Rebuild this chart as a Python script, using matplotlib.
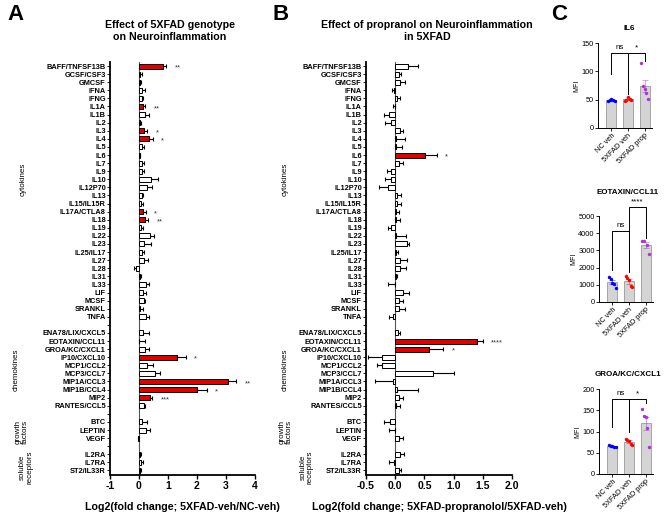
import numpy as np
import matplotlib.pyplot as plt
from matplotlib.transforms import blended_transform_factory

plt.rcParams['font.family'] = ['Liberation Sans', 'DejaVu Sans']
plt.rcParams['axes.unicode_minus'] = False

# ---- row labels (blank rows separate the groups) ----
cytokines = ['BAFF/TNFSF13B', 'GCSF/CSF3', 'GMCSF', 'IFNA', 'IFNG', 'IL1A', 'IL1B', 'IL2',
             'IL3', 'IL4', 'IL5', 'IL6', 'IL7', 'IL9', 'IL10', 'IL12P70', 'IL13',
             'IL15/IL15R', 'IL17A/CTLA8', 'IL18', 'IL19', 'IL22', 'IL23', 'IL25/IL17',
             'IL27', 'IL28', 'IL31', 'IL33', 'LIF', 'MCSF', 'SRANKL', 'TNFA']
chemokines = ['ENA78/LIX/CXCL5', 'EOTAXIN/CCL11', 'GROA/KC/CXCL1', 'IP10/CXCL10',
              'MCP1/CCL2', 'MCP3/CCL7', 'MIP1A/CCL3', 'MIP1B/CCL4', 'MIP2', 'RANTES/CCL5']
growth = ['BTC', 'LEPTIN', 'VEGF']
receptors = ['IL2RA', 'IL7RA', 'ST2/IL33R']

# ---- panel A: 5XFAD-veh / NC-veh ----
a_cyto = [0.84, 0.04, 0.04, 0.10, 0.10, 0.14, 0.22, 0.03, 0.16, 0.33, 0.11, 0.02, 0.10, 0.10,
          0.42, 0.27, 0.10, 0.08, 0.14, 0.22, 0.07, 0.39, 0.17, 0.09, 0.17, -0.09, 0.03, 0.25,
          0.15, 0.17, 0.05, 0.25]
a_cyto_err = [0.10, 0.06, 0.04, 0.09, 0.05, 0.08, 0.12, 0.04, 0.12, 0.15, 0.06, 0.03, 0.06, 0.07,
              0.24, 0.18, 0.05, 0.05, 0.10, 0.10, 0.06, 0.12, 0.25, 0.08, 0.14, 0.08, 0.05, 0.11,
              0.10, 0.05, 0.08, 0.10]
a_chemo = [0.15, 0.01, 0.20, 1.32, 0.29, 0.55, 3.06, 2.01, 0.39, 0.17]
a_chemo_err = [0.18, 0.21, 0.13, 0.30, 0.19, 0.16, 0.30, 0.32, 0.07, 0.05]
a_growth = [0.12, 0.25, -0.02]
a_growth_err = [0.15, 0.12, 0.03]
a_recep = [0.04, 0.07, 0.03]
a_recep_err = [0.03, 0.06, 0.03]
a_sig = {'BAFF/TNFSF13B': '**', 'IL1A': '**', 'IL3': '*', 'IL4': '*', 'IL17A/CTLA8': '*',
         'IL18': '**', 'IP10/CXCL10': '*', 'MIP1A/CCL3': '**', 'MIP1B/CCL4': '*', 'MIP2': '***'}

# ---- panel B: 5XFAD-propranolol / 5XFAD-veh ----
b_cyto = [0.22, 0.07, 0.09, -0.02, 0.03, -0.01, -0.10, -0.07, 0.09, 0.01, 0.02, 0.51, 0.06, -0.08,
          -0.08, -0.13, 0.03, 0.03, 0.01, 0.02, -0.07, 0.01, 0.20, 0.01, 0.09, 0.09, 0.02, -0.01,
          0.14, 0.06, 0.06, -0.04]
b_cyto_err = [0.17, 0.03, 0.07, 0.04, 0.06, 0.03, 0.09, 0.10, 0.05, 0.15, 0.10, 0.20, 0.08, 0.06,
              0.10, 0.14, 0.07, 0.07, 0.05, 0.06, 0.06, 0.18, 0.03, 0.03, 0.12, 0.10, 0.01, 0.12,
              0.10, 0.08, 0.10, 0.07]
b_chemo = [0.05, 1.40, 0.58, -0.22, -0.22, 0.65, -0.04, 0.03, 0.06, 0.02]
b_chemo_err = [0.03, 0.10, 0.24, 0.25, 0.10, 0.35, 0.30, 0.36, 0.07, 0.07]
b_growth = [-0.09, -0.01, 0.07]
b_growth_err = [0.11, 0.09, 0.06]
b_recep = [0.09, -0.02, 0.07]
b_recep_err = [0.06, 0.08, 0.03]
b_sig = {'IL6': '*', 'EOTAXIN/CCL11': '****', 'GROA/KC/CXCL1': '*'}

# ---- panel C: MFI per animal ----
c_groups = ['NC veh', '5XFAD veh', '5XFAD prop']
il6 = [[48, 50, 51, 49, 47], [48, 50, 54, 51, 49], [114, 75, 68, 62, 52]]
eotaxin = [[1460, 1360, 1110, 1030, 840], [1520, 1400, 1300, 930, 870], [3540, 3540, 3310, 2780]]
groa = [[68, 66, 65, 64, 63], [83, 81, 77, 71, 69], [154, 136, 134, 108, 64]]

W, H = 669, 520
fig = plt.figure(figsize=(W / 100, H / 100), dpi=100)


def px_axes(l, t, r, b):
    return fig.add_axes([l / W, 1 - b / H, (r - l) / W, (b - t) / H])


def join(parts):
    out = []
    for i, p in enumerate(parts):
        if i:
            out.append(np.nan)
        out += list(p)
    return np.array(out, dtype=float)


labels = cytokines + [''] + chemokines + [''] + growth + [''] + receptors
rows = np.arange(len(labels))


def fold_panel(ax, vals, errs, sig, xlim, xticks, fmt, group_x):
    colors = ['#e00000' if lab in sig else 'white' for lab in labels]
    ok = ~np.isnan(vals)
    lo = np.where(vals < 0, errs, 0)
    hi = np.where(vals >= 0, errs, 0)
    ax.barh(rows[ok], vals[ok], height=0.62, color=np.array(colors)[ok],
            edgecolor='black', linewidth=0.7, zorder=2)
    ax.errorbar(vals[ok], rows[ok], xerr=[lo[ok], hi[ok]], fmt='none', ecolor='black',
                elinewidth=0.8, capsize=1.3, capthick=0.8, zorder=3)
    ax.axvline(0, color='#555555', lw=0.8, zorder=1)
    for i, lab in enumerate(labels):
        if lab in sig:
            ax.annotate(sig[lab], (vals[i] + errs[i], i), xytext=(6, -1.4),
                        textcoords='offset points', fontsize=5.5, va='center', ha='left',
                        color='#333333')
    ax.set_ylim(len(labels) - 0.5, -0.5)
    ax.set_xlim(*xlim)
    ax.set_yticks(rows)
    ax.set_yticklabels(labels, fontsize=5.3, fontweight='bold')
    ax.set_xticks(xticks)
    ax.set_xticklabels([fmt.format(t) for t in xticks], fontsize=7.5, fontweight='bold')
    ax.tick_params(axis='y', length=2, width=0.6, pad=1)
    ax.tick_params(axis='x', length=3, width=1.0, pad=2)
    for s in ['top', 'right']:
        ax.spines[s].set_visible(False)
    for s in ['left', 'bottom']:
        ax.spines[s].set_linewidth(1.3)
    tr = blended_transform_factory(fig.transFigure, ax.transData)
    grp = [('cytokines', 14, group_x[0]), ('chemokines', 37.5, group_x[1]),
           ('growth\nfactors', 45.2, group_x[2]), ('soluble\nreceptors', 49.6, group_x[3])]
    for text, yrow, xpx in grp:
        ax.text(xpx / W, yrow, text, transform=tr, rotation=90, fontsize=5.8,
                ha='center', va='center', linespacing=1.0)


axA = px_axes(110, 62, 255, 474.5)
fold_panel(axA, join([a_cyto, a_chemo, a_growth, a_recep]),
           join([a_cyto_err, a_chemo_err, a_growth_err, a_recep_err]), a_sig,
           (-1, 4), [-1, 0, 1, 2, 3, 4], '{:g}', [23, 16, 22, 26])

axB = px_axes(366, 62, 512, 474.5)
fold_panel(axB, join([b_cyto, b_chemo, b_growth, b_recep]),
           join([b_cyto_err, b_chemo_err, b_growth_err, b_recep_err]), b_sig,
           (-0.5, 2.0), [-0.5, 0.0, 0.5, 1.0, 1.5, 2.0], '{:.1f}', [285, 285, 286, 307])

fig.text(182 / W, 1 - 507 / H, 'Log2(fold change; 5XFAD-veh/NC-veh)', fontsize=7.7,
         fontweight='bold', ha='center', va='center')
fig.text(439 / W, 1 - 507 / H, 'Log2(fold change; 5XFAD-propranolol/5XFAD-veh)', fontsize=7.7,
         fontweight='bold', ha='center', va='center')
fig.text(170 / W, 1 - 31 / H, 'Effect of 5XFAD genotype\non Neuroinflammation', fontsize=7.7,
         fontweight='bold', ha='center', va='center', linespacing=1.15)
fig.text(427 / W, 1 - 31 / H, 'Effect of propranol on Neuroinflammation\nin 5XFAD', fontsize=7.7,
         fontweight='bold', ha='center', va='center', linespacing=1.15)
for letter, xp in [('A', 15), ('B', 281), ('C', 559)]:
    fig.text(xp / W, 1 - 15 / H, letter, fontsize=16, fontweight='bold', ha='center', va='center')

dot_colors = ['#0000ff', '#ff0000', '#b030e0']


def dot_panel(ax, data, ymax, step, brackets):
    for i, (vals, col) in enumerate(zip(data, dot_colors)):
        vals = np.array(vals, dtype=float)
        m = vals.mean()
        sem = vals.std(ddof=1) / np.sqrt(len(vals))
        ax.bar(i, m, width=0.6, color='#d4d4d4', edgecolor='#9a9a9a', linewidth=0.6, zorder=1)
        ax.errorbar(i, m, yerr=sem, fmt='none', ecolor=col, alpha=0.45, elinewidth=0.7,
                    capsize=2, capthick=0.7, zorder=2)
        xs = i + np.linspace(-0.2, 0.2, len(vals))
        ax.scatter(xs, vals, s=6, color=col, zorder=3, linewidths=0)
    for x0, x1, top, l0, l1, txt in brackets:
        ax.plot([x0, x0, x1, x1], [l0, top, top, l1], color='black', lw=0.7, clip_on=False)
        ax.text((x0 + x1) / 2, top + ymax * 0.02, txt, ha='center', va='bottom', fontsize=5.8)
    ax.set_xlim(-0.8, 2.45)
    ax.set_ylim(0, ymax)
    ax.set_yticks(np.arange(0, ymax + 1, step))
    ax.tick_params(axis='y', labelsize=5.3, length=2, width=0.6, pad=1)
    ax.set_xticks(range(len(c_groups)))
    ax.set_xticklabels(c_groups, rotation=45, ha='right', rotation_mode='anchor', fontsize=5.3)
    ax.tick_params(axis='x', length=2, width=0.6, pad=1)
    ax.set_ylabel('MFI', fontsize=5, labelpad=1)
    for s in ['top', 'right']:
        ax.spines[s].set_visible(False)
    for s in ['left', 'bottom']:
        ax.spines[s].set_linewidth(0.7)


ax1 = px_axes(598, 43, 652, 128)
dot_panel(ax1, il6, 150, 50, [(0, 1, 133, 95, 60, 'ns'), (1, 2, 133, 60, 118, '*')])
ax2 = px_axes(599, 216, 653, 302)
dot_panel(ax2, eotaxin, 5000, 1000, [(0, 1, 4150, 1850, 1750, 'ns'),
                                     (1, 2, 5500, 1850, 3700, '****')])
ax3 = px_axes(599, 389, 653, 474)
dot_panel(ax3, groa, 200, 50, [(0, 1, 177, 110, 100, 'ns'), (1, 2, 177, 100, 167, '*')])

fig.text(629 / W, 1 - 29 / H, 'IL6', fontsize=5.8, fontweight='bold', ha='center', va='center')
fig.text(628 / W, 1 - 193 / H, 'EOTAXIN/CCL11', fontsize=5.8, fontweight='bold',
         ha='center', va='center')
fig.text(628 / W, 1 - 375 / H, 'GROA/KC/CXCL1', fontsize=5.8, fontweight='bold',
         ha='center', va='center')

fig.savefig('out.png', dpi=100)
